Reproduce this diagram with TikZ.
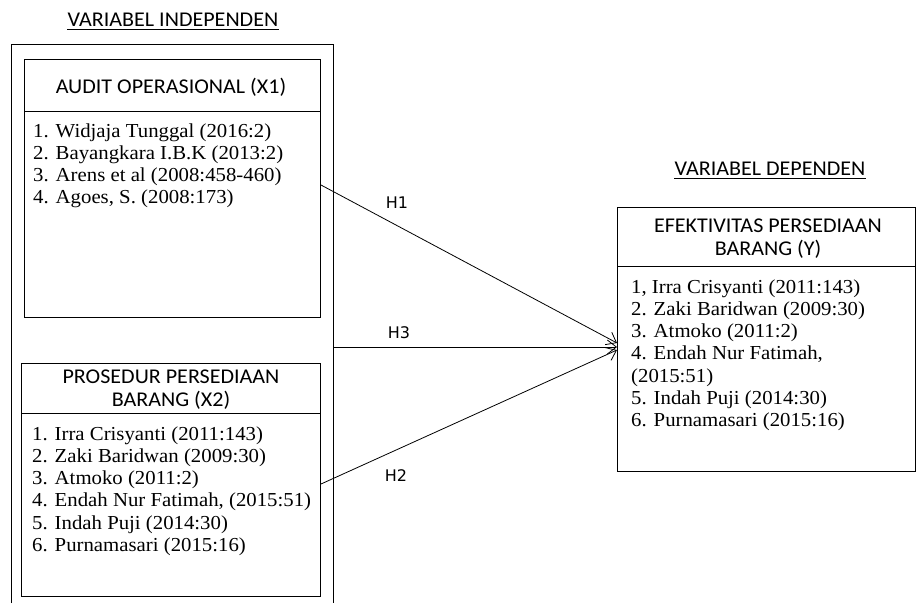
\documentclass[tikz,border=0pt]{standalone}
\usepackage{fontspec}
\setmainfont[FakeStretch=1.05]{Liberation Serif}
\newfontfamily\hdrfont[FakeStretch=1.05]{Carlito}
\newfontfamily\hfont{DejaVu Sans}
\usetikzlibrary{arrows.meta,calc}
\begin{document}
\begin{tikzpicture}[x=1pt,y=-1pt,
  box/.style={draw,line width=1pt,inner sep=0pt,anchor=north west},
  hdr/.style={font=\hdrfont\fontsize{21}{23}\selectfont,inner sep=0pt,anchor=base},
  body/.style={font=\fontsize{19.8}{22.3}\selectfont,inner sep=0pt,anchor=base west},
  hlab/.style={font=\hfont\fontsize{16}{19}\selectfont,inner sep=0pt,anchor=base},
  arr/.style={line width=0.8pt,-{Straight Barb[length=9pt,width=14pt]}}]
\useasboundingbox (0,0) rectangle (916,603);
% titles
\node[hdr] (tind) at (173,26) {VARIABEL INDEPENDEN};
\draw[line width=0.9pt] ([yshift=-3]tind.base west) -- ([yshift=-3]tind.base east);
\node[hdr] (tdep) at (770,175) {VARIABEL DEPENDEN};
\draw[line width=0.9pt] ([yshift=-3]tdep.base west) -- ([yshift=-3]tdep.base east);
% outer frame
\draw[line width=1pt] (11,603) -- (11,44) -- (333,44) -- (333,603);
% X1
\node[box,minimum width=296,minimum height=258] (x1) at (24,59) {};
\draw[line width=1pt] ($(x1.north west)+(0,52)$) -- ($(x1.north east)+(0,52)$);
\node[hdr] (x1h) at (171,93) {AUDIT OPERASIONAL (X1)};
\foreach \t [count=\i from 0] in {1. Widjaja Tunggal (2016:2),2. Bayangkara I.B.K (2013:2),3. Arens et al (2008:458-460),4. Agoes{,} S. (2008:173)}
  \node[body] (x1l\i) at (33,137+22.3*\i) {\t};
% X2
\node[box,minimum width=299,minimum height=233] (x2) at (21,363) {};
\draw[line width=1pt] ($(x2.north west)+(0,50)$) -- ($(x2.north east)+(0,50)$);
\node[hdr] (x2h1) at (171,383.5) {PROSEDUR PERSEDIAAN};
\node[hdr] (x2h2) at (171,406.5) {BARANG (X2)};
\foreach \t [count=\i from 0] in {1. Irra Crisyanti (2011:143),2. Zaki Baridwan (2009:30),3. Atmoko (2011:2),4. Endah Nur Fatimah{,} (2015:51),5. Indah Puji (2014:30),6. Purnamasari (2015:16)}
  \node[body] (x2l\i) at (32,440+22.3*\i) {\t};
% Y
\node[box,minimum width=298,minimum height=264] (y) at (617,207) {};
\draw[line width=1pt] ($(y.north west)+(0,59)$) -- ($(y.north east)+(0,59)$);
\node[hdr] (yh1) at (768,232.5) {EFEKTIVITAS PERSEDIAAN};
\node[hdr] (yh2) at (768,255.5) {BARANG (Y)};
\foreach \t [count=\i from 0] in {1{,} Irra Crisyanti (2011:143),2. Zaki Baridwan (2009:30),3. Atmoko (2011:2),4. Endah Nur Fatimah{,},(2015:51),5. Indah Puji (2014:30),6. Purnamasari (2015:16)}
  \node[body] (yl\i) at (631,293+22.3*\i) {\t};
% connectors
\coordinate (h1s) at ($(x1.north east)+(0,126)$);
\coordinate (h3s) at (333,347);
\coordinate (h2s) at ($(x2.north east)+(0,121)$);
\coordinate (h1e) at ($(y.north west)+(0,136)$);
\coordinate (h3e) at ($(y.north west)+(0,140)$);
\coordinate (h2e) at ($(y.north west)+(0,143)$);
\draw[arr] (h1s) -- (h1e);
\draw[arr] (h3s) -- (h3e);
\draw[arr] (h2s) -- (h2e);
\node[hlab] (lh1) at (397,208) {H1};
\node[hlab] (lh3) at (399,338) {H3};
\node[hlab] (lh2) at (396,481) {H2};
\end{tikzpicture}
\end{document}
